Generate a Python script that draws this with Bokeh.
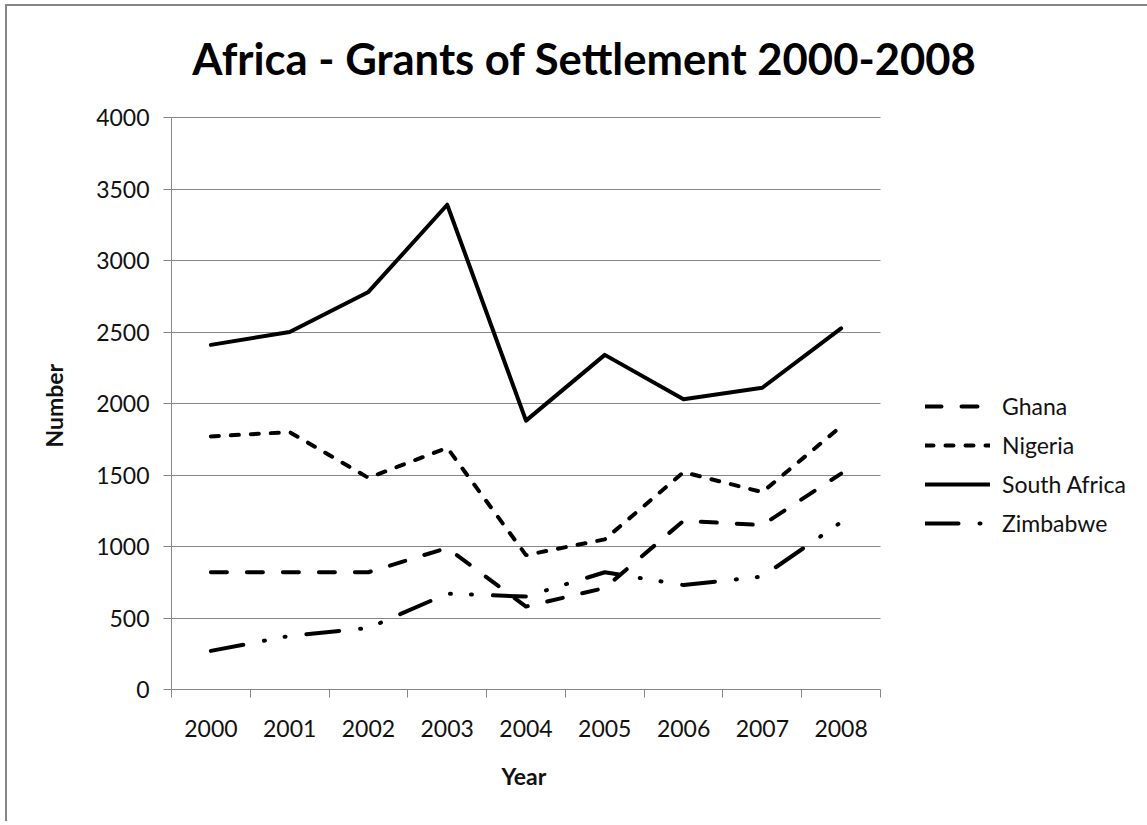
from bokeh.plotting import figure
from bokeh.models import FixedTicker, Legend, LegendItem, Range1d, Title, Label
from bokeh.embed import file_html
from bokeh.resources import INLINE

# ---- data ----
years = [2000, 2001, 2002, 2003, 2004, 2005, 2006, 2007, 2008]
ghana = [820, 820, 820, 990, 580, 710, 1180, 1150, 1510]
nigeria = [1770, 1800, 1480, 1690, 940, 1050, 1520, 1380, 1840]
south_africa = [2410, 2500, 2780, 3390, 1880, 2340, 2030, 2110, 2525]
zimbabwe = [270, 375, 430, 670, 650, 820, 730, 790, 1170]
y_ticks = [0, 500, 1000, 1500, 2000, 2500, 3000, 3500, 4000]
series_names = ["Ghana", "Nigeria", "South Africa", "Zimbabwe"]
title_text = "Africa - Grants of Settlement 2000-2008"

FONT = "Lato"
GRAY = "#868686"

# canvas starts at (7, 6) on the page (after the css border)
W, H = 1142, 817
LEFT = 164                 # plot area left edge at page x = 171
PLOT_W, PLOT_H = 709, 572  # plot area 171..880 x 117..689 on the page
TOP_GAP = 111              # page y 117 - canvas top 6
BOTTOM = H - TOP_GAP - PLOT_H

# the frame runs on to the right and top edges, so that the legend and the
# title (drawn inside the frame) are not clipped; axes/grid keep the plot area
x_lo, x_hi = years[0] - 0.5, years[-1] + 0.5
x_end = x_lo + (W - LEFT) * (x_hi - x_lo) / PLOT_W
y_lo, y_hi = y_ticks[0], y_ticks[-1]
y_end = y_hi + TOP_GAP * (y_hi - y_lo) / PLOT_H

p = figure(width=W, height=H, output_backend="svg", toolbar_location=None,
           x_range=Range1d(x_lo, x_end), y_range=Range1d(y_lo, y_end),
           min_border_left=LEFT, min_border_right=0,
           min_border_top=0, min_border_bottom=BOTTOM)
p.outline_line_color = None
p.background_fill_color = "white"
p.border_fill_color = "white"
p.styles = {"margin-left": "5px", "margin-top": "4px",
            "border-left": "2px solid #868686", "border-top": "2px solid #868686",
            "border-right": "none", "border-bottom": "none",
            "outline": "none", "box-shadow": "none"}

# x axis: labels at year centres, tick marks between categories
p.xaxis.bounds = (x_lo, x_hi)
p.xaxis.ticker = FixedTicker(ticks=years,
                             minor_ticks=[y - 0.5 for y in years] + [x_hi])
p.xaxis.major_tick_out = 0
p.xaxis.major_tick_in = 0
p.xaxis.minor_tick_out = 8
p.xaxis.minor_tick_in = 0
p.xaxis.minor_tick_line_color = GRAY
p.xaxis.axis_line_color = GRAY
p.xaxis.major_label_standoff = 22

p.yaxis.bounds = (y_lo, y_hi)
p.yaxis.ticker = FixedTicker(ticks=y_ticks)
p.yaxis.major_tick_out = 8
p.yaxis.major_tick_in = 0
p.yaxis.minor_tick_out = 0
p.yaxis.minor_tick_in = 0
p.yaxis.major_tick_line_color = GRAY
p.yaxis.axis_line_color = GRAY
p.yaxis.major_label_standoff = 14

for ax in (p.xaxis, p.yaxis):
    ax.major_label_text_font = FONT
    ax.major_label_text_font_size = "23px"
    ax.major_label_text_color = "#111111"

p.add_layout(Title(text="Year", align="left", offset=330, standoff=40,
                   text_font=FONT, text_font_style="bold", text_font_size="23px",
                   text_color="#111111"), "below")
p.add_layout(Title(text="Number", align="left", offset=242, standoff=50,
                   vertical_align="middle",
                   text_font=FONT, text_font_style="bold", text_font_size="23px",
                   text_color="#111111"), "left")

p.xgrid.visible = False
p.ygrid.grid_line_color = GRAY
p.ygrid.grid_line_width = 1
p.ygrid.ticker = FixedTicker(ticks=y_ticks)
if "cross_bounds" in p.ygrid[0].properties():
    p.ygrid.cross_bounds = (x_lo, x_hi)

style = dict(line_color="black", line_width=4, line_cap="round", line_join="round")
r_gh = p.line(years, ghana, line_dash="16 20", **style)
r_ng = p.line(years, nigeria, line_dash="8 12", **style)
r_sa = p.line(years, south_africa, **style)
r_zw = p.line(years, zimbabwe, line_dash="33 21 1 20 1 21", **style)

legend = Legend(items=[LegendItem(label=n, renderers=[r]) for n, r in
                       zip(series_names, [r_gh, r_ng, r_sa, r_zw])],
                location=(754, 152), orientation="vertical",
                glyph_width=65, glyph_height=24, label_height=24,
                label_standoff=12, spacing=11, padding=0, margin=0,
                border_line_color=None, background_fill_alpha=0,
                label_text_font=FONT, label_text_font_size="23px",
                label_text_color="#111111")
p.add_layout(legend)

# chart title, centred at page x 584, caps centred near page y 59
p.add_layout(Label(x=413, y=632, x_units="screen", y_units="screen",
                   text=title_text, text_align="center", text_baseline="alphabetic",
                   text_font=FONT, text_font_style="bold", text_font_size="43.6px",
                   text_color="black"))

open("out.html", "w").write(file_html(p, INLINE))
